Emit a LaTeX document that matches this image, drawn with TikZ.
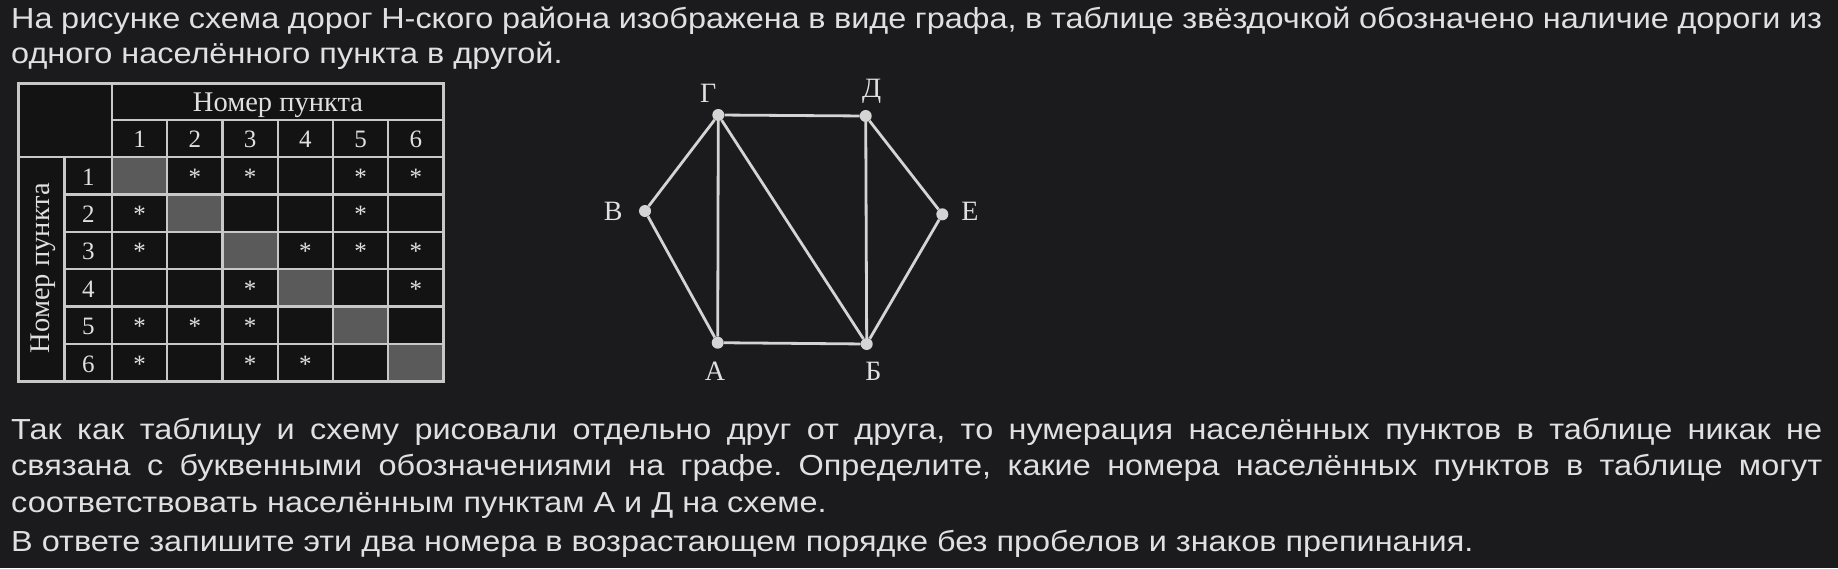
\documentclass[tikz,border=0pt]{standalone}
\usepackage{fontspec}
\setmainfont{Liberation Serif}
\newfontfamily\textsans[FakeStretch=1.118]{Liberation Sans}
\definecolor{pagebg}{HTML}{1B1B1D}
\definecolor{ink}{HTML}{E0E0E0}
\definecolor{cellbg}{HTML}{131313}
\definecolor{rule}{HTML}{C8C8C8}
\definecolor{diagcell}{HTML}{5A5A5A}
\definecolor{dot}{HTML}{D4D4D4}
\frenchspacing
\begin{document}
\begin{tikzpicture}[x=1pt,y=-1pt,
	txt/.style={font=\textsans\fontsize{29}{35}\selectfont, text=ink, anchor=base west, inner sep=0pt},
	grid/.style={draw=rule, line width=2.4pt},
	num/.style={font=\fontsize{25}{25}\selectfont, text=ink, anchor=base, inner sep=0pt},
	vertex/.style={circle, fill=dot, inner sep=0pt, minimum size=12pt},
	road/.style={draw=dot, line width=2.8pt},
	vname/.style={font=\fontsize{28}{28}\selectfont, text=ink, inner sep=0pt}]
	\fill [pagebg] (0,0) rectangle (1838,568);
	\useasboundingbox (0,0) rectangle (1838,568);
	% text above
	\node [txt] (t1) at (11,28) {\makebox[1811pt][s]{На рисунке схема дорог Н-ского района изображена в виде графа, в таблице звёздочкой обозначено наличие дороги из}};
	\node [txt] (t2) at (11,63.5) {одного населённого пункта в другой.};
	% table
	\fill [cellbg] (18.5,83.5) rectangle (443.5,381.5);
	\foreach \i in {1,...,6}
		\fill [diagcell] ({112+(\i-1)*55.25},{157+(\i-1)*37.4}) rectangle ++(55.25,37.4);
	\draw [grid] (112,120) -- (443.5,120);
	\draw [grid] (18.5,157) -- (443.5,157);
	\foreach \k in {1,...,5}
		\draw [grid] (64.5,{157+\k*37.4}) -- (443.5,{157+\k*37.4});
	\draw [grid] (64.5,157) -- (64.5,381.5);
	\draw [grid] (112,83.5) -- (112,381.5);
	\foreach \k in {1,...,5}
		\draw [grid] ({112+\k*55.25},120) -- ({112+\k*55.25},381.5);
	\draw [grid, line width=3.5pt] (18.5,83.5) rectangle (443.5,381.5);
	\node [num, font=\fontsize{28.5}{28.5}\selectfont] (head) at (278,111.7) {Номер пункта};
	\node [num, font=\fontsize{28.5}{28.5}\selectfont, rotate=90, anchor=center] (side) at (43,268) {Номер пункта};
	\foreach \i in {1,...,6} {
		\node [num] (c\i) at ({112+(\i-0.5)*55.25},147.3) {\i};
		\node [num] (r\i) at (88.25,{157+(\i-1)*37.4+28}) {\i};
	}
	\foreach \r/\c in {1/2,1/3,1/5,1/6,2/1,2/5,3/1,3/4,3/5,3/6,4/3,4/6,5/1,5/2,5/3,6/1,6/3,6/4}
		\node [num] (s\r\c) at ({112+(\c-0.5)*55.25},{157+(\r-1)*37.4+28}) {*};
	% graph
	\node [vertex] (G) at (718.3,115) {};
	\node [vertex] (D) at (865.7,116) {};
	\node [vertex] (V) at (645,211) {};
	\node [vertex] (E) at (942.3,214.3) {};
	\node [vertex] (A) at (717.7,342.7) {};
	\node [vertex] (B) at (866.7,344) {};
	\draw [road] (G) -- (D) (G) -- (V) (G) -- (A) (G) -- (B) (D) -- (B) (D) -- (E) (V) -- (A) (A) -- (B) (B) -- (E);
	\node [vname] (lG) at (708.3,93.3) {Г};
	\node [vname] (lD) at (871.7,91.7) {Д};
	\node [vname] (lV) at (613.3,211.7) {В};
	\node [vname] (lE) at (970,211.7) {Е};
	\node [vname] (lA) at (715,371.7) {А};
	\node [vname] (lB) at (873.3,371.7) {Б};
	% text below
	\node [txt] (b1) at (11,439.5) {\makebox[1811pt][s]{Так как таблицу и схему рисовали отдельно друг от друга, то нумерация населённых пунктов в таблице никак не}};
	\node [txt] (b2) at (11,475.5) {\makebox[1811pt][s]{связана с буквенными обозначениями на графе. Определите, какие номера населённых пунктов в таблице могут}};
	\node [txt] (b3) at (11,512) {соответствовать населённым пунктам А и Д на схеме.};
	\node [txt] (b4) at (11,551) {В ответе запишите эти два номера в возрастающем порядке без пробелов и знаков препинания.};
\end{tikzpicture}
\end{document}
